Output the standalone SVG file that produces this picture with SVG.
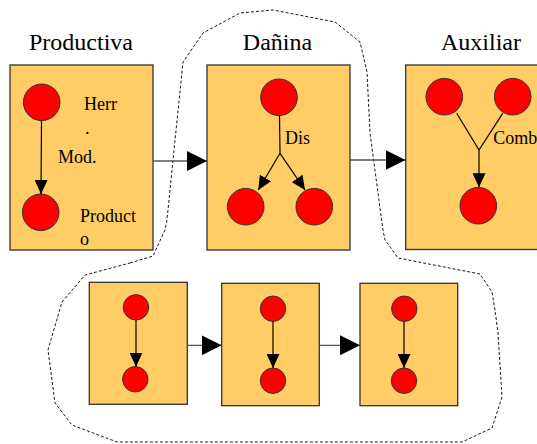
<svg xmlns="http://www.w3.org/2000/svg" width="537" height="444" viewBox="0 0 537 444">
<style>
.box{fill:#FFCC66;stroke:#333;stroke-width:1.3}
.c{fill:#FF0000;stroke:#333;stroke-width:1}
.t{font-family:"Liberation Serif","Times New Roman",serif;font-size:18px;fill:#000}
.title{font-family:"Liberation Serif","Times New Roman",serif;font-size:24px;fill:#000;text-anchor:middle}
.e{stroke:#000;stroke-width:1.2;fill:none}
.g{stroke:#555;stroke-width:1.3;fill:none}
.dash{fill:none;stroke:#000;stroke-width:0.9;stroke-dasharray:3,2}
</style>
<defs>
<marker id="big" viewBox="0 0 20 20" refX="20" refY="10" markerWidth="20" markerHeight="20" markerUnits="userSpaceOnUse" orient="auto"><path d="M0,0 L20,10 L0,20 Z" fill="#000"/></marker>
<marker id="sm" viewBox="0 0 14 13" refX="14" refY="6.5" markerWidth="14" markerHeight="13" markerUnits="userSpaceOnUse" orient="auto"><path d="M0,0 L14,6.5 L0,13 Z" fill="#000"/></marker>
</defs>
<rect width="537" height="444" fill="#fff"/>
<path class="dash" d="M130,263 L153,256 L165,230 L167,220 L173,160 L183,62 L203,33 L240,13 L273,10 L335,22 L360,42 L367,72 L370,133 L378,193 L383,230 L385,240 L398,258 L480,274 L492,292 L495,310 L498,333 L502,397 L492,428 L462,442 L117,442 L72,425 L55,403 L48,350 L62,302 L85,275 Z"/>
<g id="productiva">
<text class="title" x="81" y="50">Productiva</text>
<rect class="box" x="10" y="65" width="143" height="185"/>
<circle class="c" cx="41.7" cy="102.3" r="18.3"/>
<circle class="c" cx="40.7" cy="212.3" r="18.3"/>
<text class="t" x="84" y="110">Herr</text>
<text class="t" x="85" y="134">.</text>
<text class="t" x="58" y="163">Mod.</text>
<text class="t" x="80" y="222">Product</text>
<text class="t" x="80" y="245">o</text>
</g>
<g id="danina">
<text class="title" x="277.5" y="50">Dañina</text>
<rect class="box" x="207" y="65" width="143" height="185"/>
<circle class="c" cx="279" cy="97.3" r="18.3"/>
<circle class="c" cx="245.7" cy="206.7" r="18.3"/>
<circle class="c" cx="314.3" cy="206.7" r="18.3"/>
<text class="t" x="285" y="144">Dis</text>
</g>
<g id="auxiliar">
<text class="title" x="481" y="50">Auxiliar</text>
<rect class="box" x="405.7" y="65" width="140" height="184.5"/>
<circle class="c" cx="444.3" cy="96.7" r="18.3"/>
<circle class="c" cx="512.7" cy="96.7" r="18.3"/>
<circle class="c" cx="478.3" cy="205.7" r="18.3"/>
<text class="t" x="493.3" y="144">Comb</text>
</g>
<g id="sub1">
<rect class="box" x="89.3" y="282.3" width="98" height="122"/>
<circle class="c" cx="136" cy="307.3" r="12.7"/>
<circle class="c" cx="135.3" cy="379.3" r="12.7"/>
</g>
<g id="sub2">
<rect class="box" x="221.7" y="283.3" width="97.6" height="122.4"/>
<circle class="c" cx="273" cy="308.7" r="12.7"/>
<circle class="c" cx="273" cy="380.7" r="12.7"/>
</g>
<g id="sub3">
<rect class="box" x="360" y="283.3" width="97.7" height="122.4"/>
<circle class="c" cx="404.3" cy="308.7" r="12.7"/>
<circle class="c" cx="404" cy="380.7" r="12.7"/>
</g>
<g id="connectors">
<line class="e" x1="41.5" y1="120.6" x2="41" y2="194" marker-end="url(#sm)"/>
<line class="e" x1="279.5" y1="115.6" x2="280" y2="153.3"/>
<line class="e" x1="280" y1="153.3" x2="258.3" y2="190" marker-end="url(#sm)"/>
<line class="e" x1="280" y1="153.3" x2="305" y2="190" marker-end="url(#sm)"/>
<line class="e" x1="456.7" y1="113.3" x2="479" y2="150"/>
<line class="e" x1="502.7" y1="113.3" x2="479" y2="150"/>
<line class="e" x1="479" y1="150" x2="479" y2="187.2" marker-end="url(#sm)"/>
<line class="g" x1="153" y1="161" x2="207" y2="161" marker-end="url(#big)"/>
<line class="g" x1="350" y1="160" x2="405.5" y2="160" marker-end="url(#big)"/>
<line class="e" x1="136" y1="320" x2="136" y2="366.7" marker-end="url(#sm)"/>
<line class="e" x1="273" y1="321.4" x2="273" y2="368" marker-end="url(#sm)"/>
<line class="e" x1="404" y1="321.4" x2="404" y2="368" marker-end="url(#sm)"/>
<line class="g" x1="187.3" y1="345.3" x2="221.7" y2="345.3" marker-end="url(#big)"/>
<line class="g" x1="319.3" y1="345.3" x2="360" y2="345.3" marker-end="url(#big)"/>
</g>
</svg>
